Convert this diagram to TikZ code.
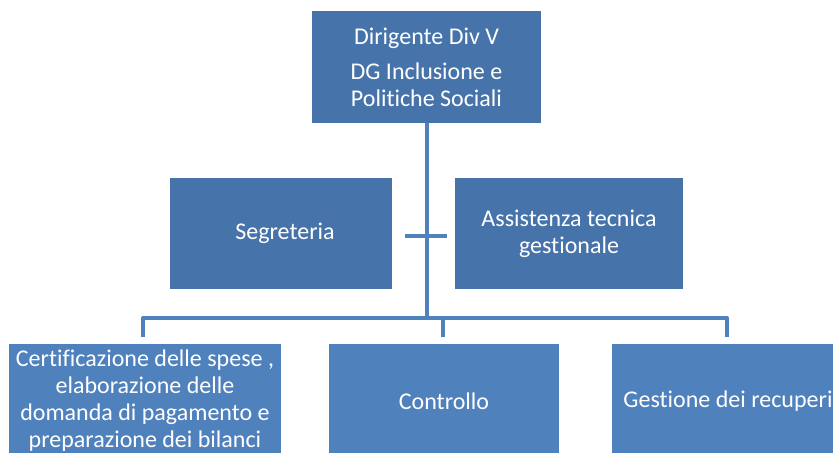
\documentclass[tikz,border=0pt]{standalone}
\usepackage{fontspec}
\setmainfont{Carlito}[Ligatures={NoCommon}]
\definecolor{darkbox}{RGB}{70,116,170}
\definecolor{lightbox}{RGB}{79,129,189}
\definecolor{linec}{RGB}{79,129,189}
\begin{document}
\begin{tikzpicture}[x=0.75pt,y=-0.75pt,
  box/.style={rectangle, inner sep=0pt, text=white, align=center, font=\fontsize{18}{20.25}\selectfont},
  topbox/.style={box, fill=darkbox},
  lowbox/.style={box, fill=lightbox},
  conn/.style={draw=linec, line width=3pt}]
\useasboundingbox (0,0) rectangle (833,453);
\clip (0,0) rectangle (833,453);
% boxes
\node[topbox, minimum width=229*0.75pt, minimum height=112*0.75pt] (top) at (426.5,67) {Dirigente Div V\\[6pt]DG Inclusione e\\Politiche Sociali};
\node[topbox, minimum width=222*0.75pt, minimum height=111*0.75pt] (seg) at (281,233.5) {\hspace*{6pt}Segreteria};
\node[topbox, minimum width=228*0.75pt, minimum height=111*0.75pt] (ass) at (569,233.5) {Assistenza tecnica\\gestionale};
\node[lowbox, minimum width=272*0.75pt, minimum height=114*0.75pt] (cert) at (145,401) {Certificazione delle spese ,\\elaborazione delle\\domanda di pagamento e\\preparazione dei bilanci};
\node[lowbox, minimum width=230*0.75pt, minimum height=114*0.75pt] (ctrl) at (444,401) {Controllo};
\node[lowbox, minimum width=232*0.75pt, minimum height=114*0.75pt] (rec) at (728,401) {Gestione dei recuperi};
% connector points
\coordinate (bus) at (427,318);
\coordinate (stubL) at (405,236);
\coordinate (stubR) at (447,236);
\coordinate (busL) at (143,318);
\coordinate (busM) at (443,318);
\coordinate (busR) at (727,318);
\coordinate (dropL) at (143,337);
\coordinate (dropM) at (443,337);
\coordinate (dropR) at (727,337);
% connectors
\draw[conn] (top.south -| bus) -- (bus);
\draw[conn] (stubL) -- (stubR);
\draw[conn, line join=round] (dropL) -- (busL) -- (busR) -- (dropR);
\draw[conn] (busM) -- (dropM);
\end{tikzpicture}
\end{document}
